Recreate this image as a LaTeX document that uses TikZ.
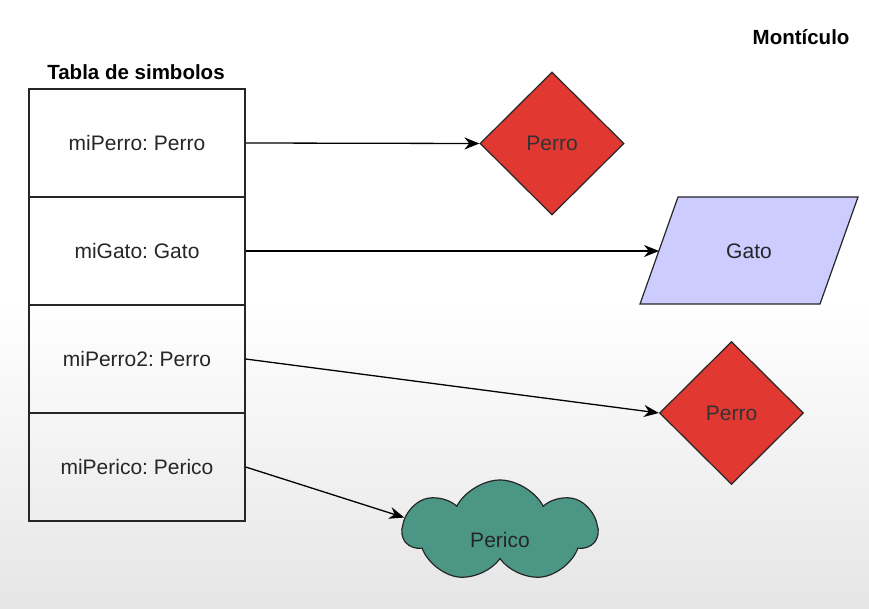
\documentclass[tikz,border=0pt]{standalone}
\usepackage{fontspec}
\setmainfont{Liberation Sans}
\frenchspacing
\usetikzlibrary{shapes.geometric,shapes.symbols,arrows.meta}
\definecolor{dred}{RGB}{226,56,50}
\definecolor{lav}{RGB}{204,204,255}
\definecolor{teal2}{RGB}{76,150,134}
\begin{document}
\begin{tikzpicture}[x=1pt,y=-1pt,
  txt/.style={font=\fontsize{21}{24}\selectfont, text=black!85},
  bold/.style={font=\fontsize{20.5}{24}\selectfont\bfseries},
  cell/.style={txt, draw=black!85, line width=1.3pt, minimum width=216pt, minimum height=108pt, inner sep=0pt},
  dia/.style={txt, diamond, draw=black!85, line width=1.2pt, fill=dred, minimum width=144pt, minimum height=143pt, inner sep=0pt, text=black!80},
  conn/.style={line width=1.3pt, draw=black, -{Stealth[length=15pt,width=12pt]}}]
\useasboundingbox (0,0) rectangle (869,609);
\fill[white] (0,0) rectangle (869,300);
\shade[top color=white, bottom color=black!10] (0,300) rectangle (869,609);
\node[bold] (title) at (136,72) {Tabla de simbolos};
\node[bold, anchor=east] (mont) at (853,37) {Montículo};
\node[cell] (r1) at (137,143) {miPerro: Perro};
\node[cell] (r2) at (137,251) {miGato: Gato};
\node[cell] (r3) at (137,359) {miPerro2: Perro};
\node[cell] (r4) at (137,467) {miPerico: Perico};
\node[dia] (d1) at (552,143.5) {Perro};
\node[dia] (d2) at (731.5,413) {Perro};
\draw[line width=1.2pt, draw=black!85, fill=lav] (678,197) -- (858,197) -- (820,304) -- (640,304) -- cycle;
\node[txt] (gato) at (749,251) {Gato};
\coordinate (gatoL) at (659,251);
\node[txt, cloud, cloud puffs=7, cloud puff arc=125, aspect=2.0, draw=black!85, line width=1.2pt, fill=teal2, minimum width=194pt, minimum height=102pt, inner sep=0pt] (cl) at (500,531) {};
\node[txt] (pertxt) at (500,540) {Perico};
\draw[conn] (r1.east) -- (d1.west);
\draw[conn] (r2.east) -- (gatoL);
\draw[conn] (r3.east) -- (d2.west);
\draw[conn] (r4.east) -- (cl.172);
\end{tikzpicture}
\end{document}
